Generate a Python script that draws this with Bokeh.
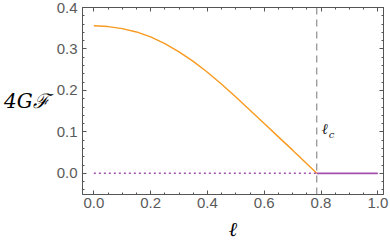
from bokeh.plotting import figure
from bokeh.models import Range1d, LinearAxis, FixedTicker, Label, Span
from bokeh.embed import file_html
from bokeh.resources import INLINE

# data
ell = [0.00, 0.05, 0.10, 0.15, 0.20, 0.25, 0.30, 0.35, 0.40, 0.45, 0.50,
       0.55, 0.60, 0.65, 0.70, 0.75, 0.785]
free_energy = [0.356, 0.354, 0.349, 0.341, 0.329, 0.313, 0.293, 0.270, 0.244,
               0.215, 0.184, 0.152, 0.120, 0.088, 0.056, 0.023, 0.0]
ell_c = 0.785
zero_dotted_x = [0.0, ell_c]
zero_solid_x = [ell_c, 1.0]
zero_y = [0.0, 0.0]

x_ticks = [0.0, 0.2, 0.4, 0.6, 0.8, 1.0]
x_tick_labels = ["0.0", "0.2", "0.4", "0.6", "0.8", "1.0"]
x_minor = [0.05, 0.1, 0.15, 0.25, 0.3, 0.35, 0.45, 0.5, 0.55, 0.65, 0.7, 0.75, 0.85, 0.9, 0.95]
y_ticks = [0.0, 0.1, 0.2, 0.3, 0.4]
y_tick_labels = ["0.0", "0.1", "0.2", "0.3", "0.4"]
y_minor = [-0.04, -0.02, 0.02, 0.04, 0.06, 0.08, 0.12, 0.14, 0.16, 0.18,
           0.22, 0.24, 0.26, 0.28, 0.32, 0.34, 0.36, 0.38]
y_label = "4Gℱ"
x_label = "ℓ"

ORANGE = "#F89A1F"
PURPLE = "#A24FAE"
FRAME = "#555555"
TICKTXT = "#5a5a5a"

p = figure(width=390, height=250, output_backend="svg", toolbar_location=None,
           x_range=Range1d(-0.04, 1.02), y_range=Range1d(-0.051, 0.4),
           min_border_left=81, min_border_right=7, min_border_top=7,
           min_border_bottom=56, x_axis_location=None, y_axis_location=None)
p.grid.visible = False
p.outline_line_color = FRAME
p.outline_line_width = 1
p.background_fill_color = "white"
p.border_fill_color = "white"

xt = FixedTicker(ticks=x_ticks, minor_ticks=x_minor)
yt = FixedTicker(ticks=y_ticks, minor_ticks=y_minor)
xover = {t: s for t, s in zip(x_ticks, x_tick_labels)}
yover = {t: s for t, s in zip(y_ticks, y_tick_labels)}


def style(ax, labels):
    ax.axis_line_color = FRAME
    ax.major_tick_line_color = FRAME
    ax.minor_tick_line_color = FRAME
    ax.major_tick_in = 4
    ax.major_tick_out = 0
    ax.minor_tick_in = 2
    ax.minor_tick_out = 0
    if labels:
        ax.major_label_text_font = "Liberation Sans"
        ax.major_label_text_font_size = "15px"
        ax.major_label_text_color = TICKTXT
    else:
        ax.major_label_text_font_size = "0px"
        ax.major_label_standoff = 0


bottom = LinearAxis(ticker=xt, major_label_overrides=xover)
style(bottom, True)
bottom.major_label_standoff = 3
bottom.axis_label = x_label
bottom.axis_label_text_font = "DejaVu Serif"
bottom.axis_label_text_font_style = "italic"
bottom.axis_label_text_font_size = "20px"
bottom.axis_label_text_color = "black"
bottom.axis_label_standoff = 6
p.add_layout(bottom, "below")

left = LinearAxis(ticker=yt, major_label_overrides=yover)
style(left, True)
left.major_label_standoff = 5
if "axis_label_orientation" in left.properties():
    left.axis_label = y_label
    left.axis_label_orientation = "horizontal"
    left.axis_label_text_font = "DejaVu Serif"
    left.axis_label_text_font_style = "italic"
    left.axis_label_text_font_size = "20px"
    left.axis_label_text_color = "black"
    left.axis_label_standoff = 5
p.add_layout(left, "left")

top = LinearAxis(ticker=xt, major_label_overrides={t: "" for t in x_ticks})
style(top, False)
p.add_layout(top, "above")

right = LinearAxis(ticker=yt, major_label_overrides={t: "" for t in y_ticks})
style(right, False)
p.add_layout(right, "right")

p.line(ell, free_energy, line_color=ORANGE, line_width=1.4)
p.line(zero_dotted_x, zero_y, line_color=PURPLE, line_width=1.5, line_dash="2 3")
p.line(zero_solid_x, zero_y, line_color=PURPLE, line_width=1.6)

p.add_layout(Span(location=ell_c, dimension="height", line_color="#777777",
                  line_dash="7 5", line_width=1))

p.add_layout(Label(x=ell_c, y=0.106, x_offset=5, text="ℓ", text_font="DejaVu Serif",
                   text_font_style="italic", text_font_size="15px",
                   text_baseline="middle", text_color="#222222"))
p.add_layout(Label(x=ell_c, y=0.093, x_offset=12, text="c", text_font="DejaVu Serif",
                   text_font_style="italic", text_font_size="10px",
                   text_baseline="middle", text_color="#222222"))

open("out.html", "w").write(file_html(p, INLINE))
